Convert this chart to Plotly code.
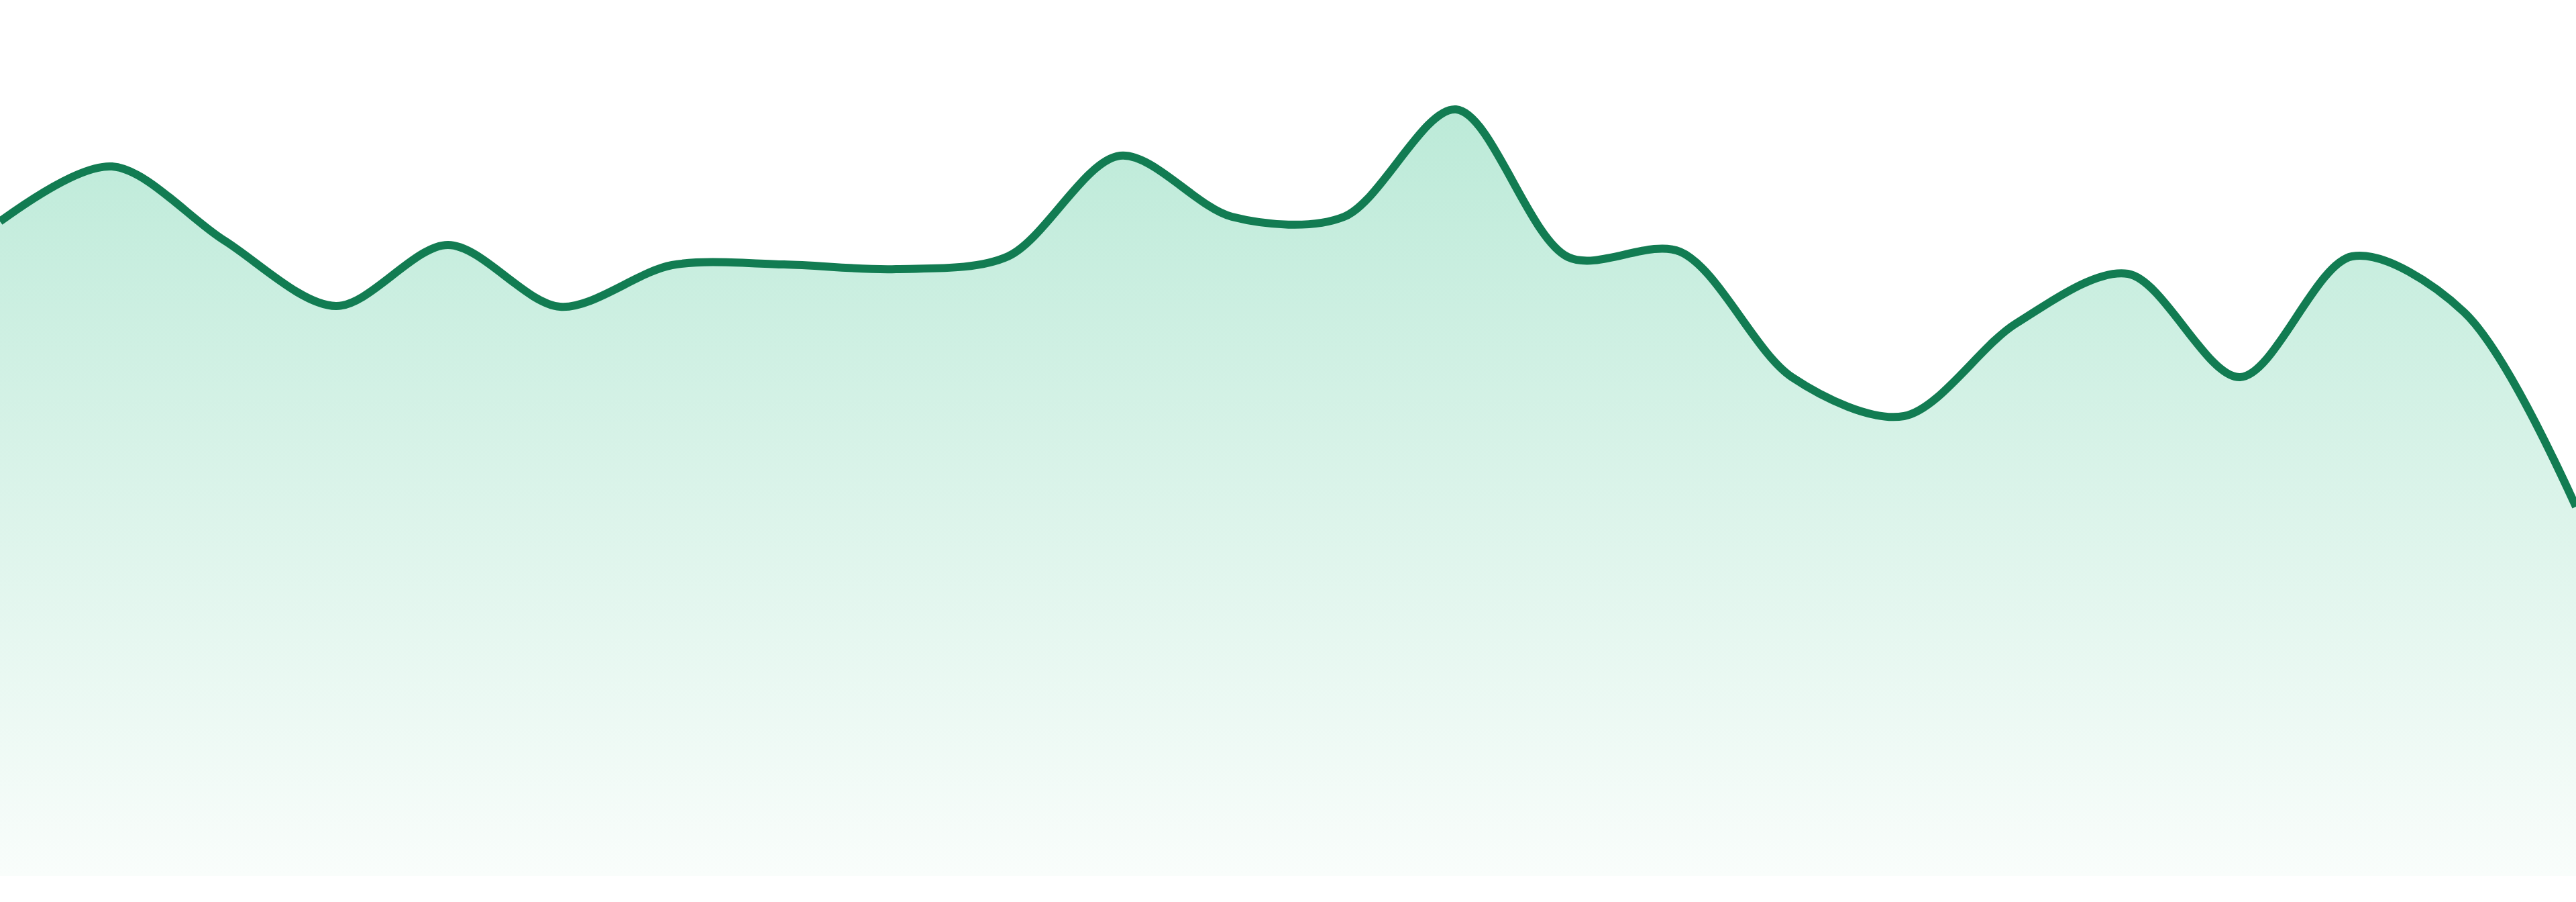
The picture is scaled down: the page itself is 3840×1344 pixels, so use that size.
import plotly.graph_objects as go

# one reading per period, 24 periods, no axes shown
periods = list(range(24))
values = [97.5, 105.7, 94.7, 84.9, 94.0, 84.8, 91.0, 91.1, 90.4, 92.3, 107.3, 98.2,
          98.2, 114.2, 92.2, 93.0, 74.3, 68.5, 82.3, 89.7, 74.3, 92.3, 84.0, 55.0]

line_color = "#127C52"
fill_top = "rgb(188,234,216)"
fill_bottom = "rgb(249,253,251)"

fig = go.Figure()
fig.add_trace(go.Scatter(
    x=periods,
    y=values,
    mode="lines",
    line=dict(color=line_color, width=12, shape="spline", smoothing=0.9),
    fill="tozeroy",
    fillgradient=dict(
        type="vertical",
        start=0,
        stop=max(values),
        colorscale=[[0, fill_bottom], [1, fill_top]],
    ),
    hoverinfo="skip",
))

fig.update_layout(
    width=3840,
    height=1344,
    margin={"r": 0, "t": 0, "l": 0, "b": 39},
    paper_bgcolor="white",
    plot_bgcolor="white",
    showlegend=False,
)
fig.update_xaxes(visible=False, range=[0, 23])
fig.update_yaxes(visible=False, range=[0, 130.5])

# drop the default page margin so the chart sits flush in the window
fig.write_html("out.html", config={"displayModeBar": False},
               post_script="document.body.style.margin = '0';")
